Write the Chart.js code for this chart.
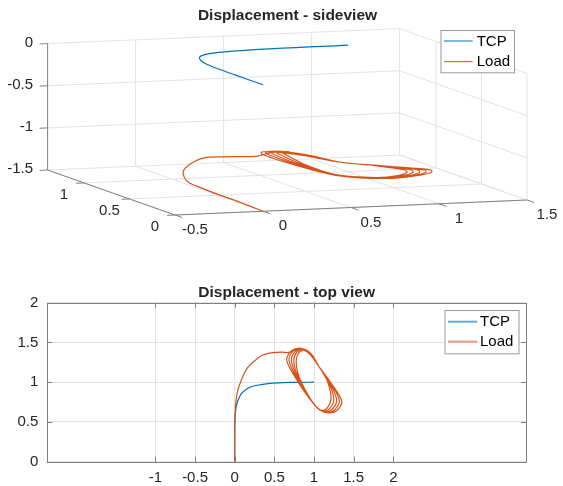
<!DOCTYPE html>
<html>
<head>
<meta charset="utf-8">
<script src="https://cdn.jsdelivr.net/npm/chart.js@4.4.1/dist/chart.umd.min.js"></script>
<style>
  html, body { margin: 0; padding: 0; background: #fff; }
  #wrap { position: relative; width: 563px; height: 486px; }
  #side { position: absolute; left: 0; top: 0; }
  #top { position: absolute; left: 0; top: 250px; }
</style>
</head>
<body>
<div id="wrap">
  <canvas id="side" width="563" height="250"></canvas>
  <canvas id="top" width="563" height="236"></canvas>
</div>
<script>
// ---- data ----
const seriesNames = ["TCP", "Load"];

// TCP path (stays in the z = 0 plane)
const tcpX = [0, 0, 0.002, 0.008, 0.02, 0.045, 0.08, 0.13, 0.2, 0.3, 0.42, 0.55, 0.7, 0.85, 1.0];
const tcpY = [0, 0.3, 0.5, 0.6, 0.7, 0.78, 0.85, 0.9, 0.94, 0.965, 0.982, 0.992, 0.997, 0.999, 1.0];
const tcpZ = [0, 0, 0, 0, 0, 0, 0, 0, 0, 0, 0, 0, 0, 0, 0];

// Load path: approach arc, then the swinging loops around (1, 1)
const loadX = [
  0, 0, 0.002, 0.01, 0.035, 0.085, 0.16, 0.27, 0.36, 0.48, 0.6, 0.68,
  0.80, 0.93, 1.06, 1.22, 1.35, 1.29, 1.18, 1.05, 0.88, 0.74,
  0.655, 0.71, 0.815, 0.94, 1.06, 1.21, 1.32, 1.26, 1.16, 1.04, 0.88, 0.755,
  0.685, 0.735, 0.83, 0.95, 1.06, 1.195, 1.285, 1.23, 1.14, 1.03, 0.88, 0.77,
  0.715, 0.76, 0.85, 0.96, 1.06, 1.18, 1.25, 1.20, 1.12, 1.02, 0.88, 0.785,
  0.745, 0.785, 0.865, 0.97, 1.06, 1.165, 1.215, 1.17, 1.10, 1.01, 0.88, 0.80,
  0.775, 0.81, 0.88
];
const loadY = [
  0, 0.25, 0.5, 0.7, 0.88, 1.03, 1.18, 1.285, 1.345, 1.372, 1.378, 1.375,
  1.42, 1.37, 1.20, 0.98, 0.76, 0.645, 0.615, 0.67, 0.88, 1.10,
  1.28, 1.39, 1.425, 1.365, 1.20, 0.99, 0.77, 0.65, 0.62, 0.68, 0.89, 1.10,
  1.28, 1.39, 1.425, 1.36, 1.20, 1.00, 0.78, 0.66, 0.625, 0.69, 0.90, 1.10,
  1.275, 1.385, 1.42, 1.355, 1.20, 1.01, 0.79, 0.67, 0.635, 0.70, 0.91, 1.10,
  1.27, 1.38, 1.415, 1.35, 1.20, 1.02, 0.80, 0.68, 0.645, 0.71, 0.92, 1.10,
  1.265, 1.375, 1.41
];
const loadZ = [
  -1.5, -1.49, -1.49, -1.49, -1.5, -1.495, -1.475, -1.43, -1.41, -1.42, -1.43, -1.43,
  -1.41, -1.44, -1.47, -1.45, -1.42, -1.40, -1.42, -1.46, -1.49, -1.43,
  -1.37, -1.39, -1.41, -1.44, -1.47, -1.45, -1.42, -1.40, -1.42, -1.46, -1.49, -1.43,
  -1.37, -1.39, -1.41, -1.44, -1.47, -1.45, -1.42, -1.40, -1.42, -1.46, -1.49, -1.43,
  -1.37, -1.39, -1.41, -1.44, -1.47, -1.45, -1.42, -1.40, -1.42, -1.46, -1.49, -1.43,
  -1.37, -1.39, -1.41, -1.44, -1.47, -1.45, -1.42, -1.40, -1.42, -1.46, -1.49, -1.43,
  -1.37, -1.39, -1.41
];

// 3-D side view axes
const xLim3 = [-0.5, 1.5];
const yLim3 = [0, 1.4];
const zLim3 = [-1.5, 0];
const xTicks3 = [-0.5, 0, 0.5, 1, 1.5];
const yTicks3 = [0, 0.5, 1];
const zTicks3 = [-1.5, -1, -0.5, 0];

// 2-D top view axes
const xLim2 = [-2.363, 3.673];
const yLim2 = [0, 2];
const xTicks2 = [-1, -0.5, 0, 0.5, 1, 1.5, 2];
const yTicks2 = [0, 0.5, 1, 1.5, 2];

const BLUE = "#0072BD", ORANGE = "#D95319";
const TXT = "#262626", GRID = "#e3e3e3", AXIS = "#808080";
const FONT = '"Liberation Sans", Arial, Helvetica, sans-serif';
const colors = [BLUE, ORANGE];

// camera for the side view: where the origin lands and the step for one unit on each axis
const VIEW = { o: [263, 84.8], ex: [176, -7.5], ey: [-91, -32.1], ez: [0, -84.3] };
function proj(x, y, z) {
  return {
    x: VIEW.o[0] + x * VIEW.ex[0] + y * VIEW.ey[0] + z * VIEW.ez[0],
    y: VIEW.o[1] + x * VIEW.ex[1] + y * VIEW.ey[1] + z * VIEW.ez[1]
  };
}
function path3(xs, ys, zs) { return xs.map((x, i) => proj(x, ys[i], zs[i])); }
function seg(list, a, b) { list.push(proj(a[0], a[1], a[2]), proj(b[0], b[1], b[2]), { x: null, y: null }); }

// grid on the floor, back wall and right wall
const gridSegs = [];
const [x0, x1] = xLim3, [y0, y1] = yLim3, [z0, z1] = zLim3;
xTicks3.forEach(x => { seg(gridSegs, [x, y0, z0], [x, y1, z0]); seg(gridSegs, [x, y1, z0], [x, y1, z1]); });
yTicks3.forEach(y => { seg(gridSegs, [x0, y, z0], [x1, y, z0]); seg(gridSegs, [x1, y, z0], [x1, y, z1]); });
zTicks3.forEach(z => { seg(gridSegs, [x0, y1, z], [x1, y1, z]); seg(gridSegs, [x1, y0, z], [x1, y1, z]); });

// axis lines and tick marks
const axisSegs = [];
seg(axisSegs, [x0, y0, z0], [x1, y0, z0]);
seg(axisSegs, [x0, y0, z0], [x0, y1, z0]);
seg(axisSegs, [x0, y1, z0], [x0, y1, z1]);
xTicks3.forEach(x => seg(axisSegs, [x, y0, z0], [x, y0 - 0.08, z0]));
yTicks3.forEach(y => seg(axisSegs, [x0, y, z0], [x0 - 0.045, y, z0]));
zTicks3.forEach(z => seg(axisSegs, [x0, y1, z], [x0 - 0.045, y1, z]));

function drawLegend(ctx, box, lineX, rowsY, textX, alpha, lw) {
  ctx.save();
  ctx.fillStyle = "#fff";
  ctx.fillRect(box[0], box[1], box[2], box[3]);
  ctx.strokeStyle = "#9a9a9a";
  ctx.lineWidth = 1;
  ctx.strokeRect(box[0] + 0.5, box[1] + 0.5, box[2], box[3]);
  ctx.font = "15px " + FONT;
  ctx.textAlign = "left";
  ctx.textBaseline = "middle";
  seriesNames.forEach((name, i) => {
    ctx.globalAlpha = alpha;
    ctx.strokeStyle = colors[i];
    ctx.lineWidth = lw;
    ctx.beginPath();
    ctx.moveTo(lineX[0], rowsY[i]);
    ctx.lineTo(lineX[1], rowsY[i]);
    ctx.stroke();
    ctx.globalAlpha = 1;
    ctx.fillStyle = "#000";
    ctx.fillText(name, textX, rowsY[i] + 0.5);
  });
  ctx.restore();
}

const sideDecor = {
  id: "sideDecor",
  afterDraw(chart) {
    const ctx = chart.ctx;
    const sx = v => chart.scales.x.getPixelForValue(v);
    const sy = v => chart.scales.y.getPixelForValue(v);
    ctx.save();
    ctx.fillStyle = TXT;
    ctx.font = "bold 15.5px " + FONT;
    ctx.textAlign = "center";
    ctx.textBaseline = "alphabetic";
    ctx.fillText("Displacement - sideview", 287.5, 19.5);

    ctx.font = "15px " + FONT;
    ctx.textBaseline = "middle";
    ctx.textAlign = "right";
    zTicks3.forEach(z => {
      const p = proj(x0, y1, z);
      ctx.fillText(String(z), sx(p.x) - 14.5, sy(p.y) - 1);
    });
    ctx.textAlign = "center";
    yTicks3.forEach(y => {
      const p = proj(x0, y, z0);
      ctx.fillText(String(y), sx(p.x) - 20, sy(p.y) + 12);
    });
    xTicks3.forEach(x => {
      const p = proj(x, y0, z0);
      ctx.fillText(String(x), sx(p.x) + 20, sy(p.y) + 15);
    });
    ctx.restore();
    drawLegend(ctx, [440.5, 30, 73.5, 42.3], [444, 472.7], [41, 61.7], 476.7, 1, 1);
  }
};

new Chart(document.getElementById("side"), {
  type: "scatter",
  data: {
    datasets: [
      { label: "TCP", data: path3(tcpX, tcpY, tcpZ), showLine: true, borderColor: BLUE, borderWidth: 1.2, pointRadius: 0, tension: 0.3, order: 2 },
      { label: "Load", data: path3(loadX, loadY, loadZ), showLine: true, borderColor: ORANGE, borderWidth: 1.2, pointRadius: 0, tension: 0.3, order: 1 },
      { label: "axes", data: axisSegs, showLine: true, borderColor: AXIS, borderWidth: 1, pointRadius: 0, order: 9 },
      { label: "grid", data: gridSegs, showLine: true, borderColor: GRID, borderWidth: 1, pointRadius: 0, order: 10 }
    ]
  },
  options: {
    responsive: false,
    animation: false,
    events: [],
    layout: { padding: 0 },
    plugins: { legend: { display: false }, tooltip: { enabled: false } },
    scales: {
      x: { type: "linear", display: false, min: 0, max: 563 },
      y: { type: "linear", display: false, min: 0, max: 250, reverse: true }
    }
  },
  plugins: [sideDecor]
});

// ---- top view ----
const topDecor = {
  id: "topDecor",
  beforeDatasetsDraw(chart) {
    const ctx = chart.ctx, a = chart.chartArea;
    const sx = chart.scales.x, sy = chart.scales.y;
    ctx.save();
    ctx.strokeStyle = AXIS;
    ctx.lineWidth = 1;
    ctx.strokeRect(Math.round(a.left) + 0.5, Math.round(a.top) + 0.5, Math.round(a.right - a.left), Math.round(a.bottom - a.top));
    ctx.beginPath();
    xTicks2.forEach(v => {
      const px = Math.round(sx.getPixelForValue(v)) + 0.5;
      ctx.moveTo(px, a.bottom); ctx.lineTo(px, a.bottom - 5);
      ctx.moveTo(px, a.top); ctx.lineTo(px, a.top + 5);
    });
    yTicks2.forEach(v => {
      const py = Math.round(sy.getPixelForValue(v)) + 0.5;
      ctx.moveTo(a.left, py); ctx.lineTo(a.left + 5, py);
      ctx.moveTo(a.right, py); ctx.lineTo(a.right - 5, py);
    });
    ctx.stroke();
    ctx.restore();
  },
  afterDraw(chart) {
    const ctx = chart.ctx, a = chart.chartArea;
    ctx.save();
    ctx.fillStyle = TXT;
    ctx.font = "bold 15.5px " + FONT;
    ctx.textAlign = "center";
    ctx.textBaseline = "alphabetic";
    ctx.fillText("Displacement - top view", (a.left + a.right) / 2, 46.7);
    ctx.restore();
    drawLegend(ctx, [444.5, 60, 74, 43.3], [448, 477.3], [71.7, 91.7], 480, 0.6, 2);
  }
};

new Chart(document.getElementById("top"), {
  type: "scatter",
  data: {
    datasets: [
      { label: "TCP", data: tcpX.map((x, i) => ({ x: x, y: tcpY[i] })), showLine: true, borderColor: BLUE, borderWidth: 1.2, pointRadius: 0, tension: 0.3, order: 2 },
      { label: "Load", data: loadX.map((x, i) => ({ x: x, y: loadY[i] })), showLine: true, borderColor: ORANGE, borderWidth: 1.2, pointRadius: 0, tension: 0.3, order: 1 }
    ]
  },
  options: {
    responsive: false,
    animation: false,
    events: [],
    layout: { padding: { top: 52.7, right: 37, left: 0, bottom: 0 } },
    plugins: { legend: { display: false }, tooltip: { enabled: false } },
    scales: {
      x: {
        type: "linear", min: xLim2[0], max: xLim2[1],
        afterBuildTicks: s => { s.ticks = xTicks2.map(v => ({ value: v })); },
        afterFit: s => { s.height = 24.3; },
        grid: { color: GRID, drawTicks: false },
        border: { display: false },
        ticks: { color: TXT, font: { family: FONT, size: 15 }, padding: 7, maxRotation: 0, autoSkip: false, callback: v => String(v) }
      },
      y: {
        type: "linear", min: yLim2[0], max: yLim2[1],
        afterBuildTicks: s => { s.ticks = yTicks2.map(v => ({ value: v })); },
        afterFit: s => { s.width = 47.3; },
        grid: { color: GRID, drawTicks: false },
        border: { display: false },
        ticks: { color: TXT, font: { family: FONT, size: 15 }, padding: 9, callback: v => String(v) }
      }
    }
  },
  plugins: [topDecor]
});
</script>
</body>
</html>
